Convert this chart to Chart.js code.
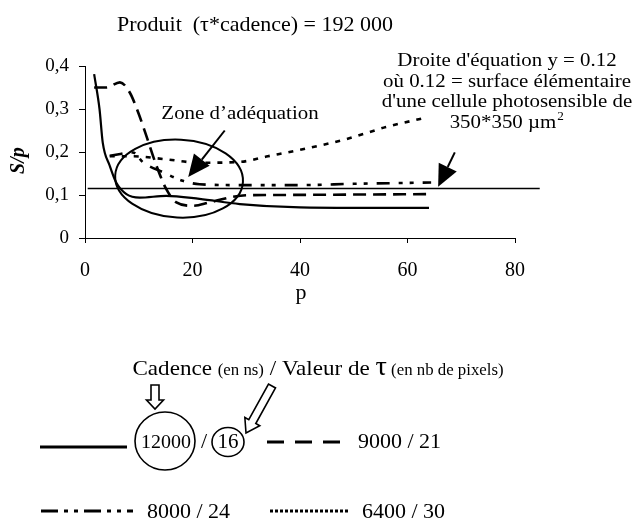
<!DOCTYPE html>
<html>
<head>
<meta charset="utf-8">
<script src="https://cdn.jsdelivr.net/npm/chart.js@4.4.1/dist/chart.umd.min.js"></script>
<style>
html, body { margin: 0; padding: 0; background: #fff; }
#wrap { width: 640px; height: 519px; }
</style>
</head>
<body>
<div id="wrap"><canvas id="myChart"></canvas></div>
<script>
// p values (x) and S/p values (y)
const pSolid = [1.7, 2.7, 3.3, 4.6, 5.8, 7.7, 10.2, 15.1, 21.3, 28.8, 40, 50, 64];
const sSolid = [0.381, 0.300, 0.222, 0.168, 0.129, 0.102, 0.094, 0.098, 0.091, 0.079, 0.071, 0.070, 0.070];

const pDash = [1.7, 4.0, 6.5, 8.3, 9.9, 11.4, 13.3, 15.1, 17.0, 20.1, 23.2, 29.4, 35, 50, 64];
const sDash = [0.350, 0.350, 0.362, 0.339, 0.292, 0.238, 0.168, 0.114, 0.083, 0.075, 0.083, 0.099, 0.100, 0.101, 0.102];

const pDashDot = [4.6, 8.9, 10.8, 14.5, 18.2, 21.3, 28.8, 40, 50, 64.4];
const sDashDot = [0.191, 0.199, 0.176, 0.153, 0.133, 0.125, 0.123, 0.123, 0.126, 0.129];

const pDot = [4.6, 8.9, 15.1, 21.3, 28.8, 34, 40, 48.6, 56, 62.7];
const sDot = [0.190, 0.190, 0.183, 0.175, 0.177, 0.190, 0.205, 0.230, 0.258, 0.278];

const pRef = [0.5, 84.6];
const sRef = [0.115, 0.115];

const seriesLabels = ['12000 / 16', '9000 / 21', '8000 / 24', '6400 / 30'];
const xTicks = [0, 20, 40, 60, 80];
const yTicks = [0, 0.1, 0.2, 0.3, 0.4];

const FONT = '"Liberation Serif", "Times New Roman", serif';
Chart.defaults.font.family = FONT;
Chart.defaults.color = '#000';

function pts(xs, ys) {
    return xs.map((x, i) => ({ x: x, y: ys[i] }));
}

const DASH = [13, 7];
const DASHDOT = [13, 9, 4, 7, 4, 9];
const DOT = [5, 7];

function txt(ctx, s, x, y, size, align, style, sx) {
    ctx.save();
    ctx.font = (style || '') + ' ' + size + 'px ' + FONT;
    ctx.textAlign = align || 'center';
    ctx.textBaseline = 'alphabetic';
    ctx.fillStyle = '#000';
    ctx.translate(x, y);
    ctx.scale(sx || 1.1, 1);
    ctx.fillText(s, 0, 0);
    ctx.restore();
}

function textW(ctx, s, size, sx) {
    ctx.save();
    ctx.font = size + 'px ' + FONT;
    const w = ctx.measureText(s).width * (sx || 1.1);
    ctx.restore();
    return w;
}

function filledArrow(ctx, x1, y1, x2, y2, headL, headW) {
    const a = Math.atan2(y2 - y1, x2 - x1);
    const bx = x2 - headL * Math.cos(a), by = y2 - headL * Math.sin(a);
    ctx.save();
    ctx.strokeStyle = '#000';
    ctx.fillStyle = '#000';
    ctx.lineWidth = 2;
    ctx.beginPath();
    ctx.moveTo(x1, y1);
    ctx.lineTo(bx, by);
    ctx.stroke();
    ctx.beginPath();
    ctx.moveTo(x2, y2);
    ctx.lineTo(bx + headW / 2 * Math.sin(a), by - headW / 2 * Math.cos(a));
    ctx.lineTo(bx - headW / 2 * Math.sin(a), by + headW / 2 * Math.cos(a));
    ctx.closePath();
    ctx.fill();
    ctx.restore();
}

function hollowArrow(ctx, x1, y1, x2, y2, shaftW, headW, headL) {
    const a = Math.atan2(y2 - y1, x2 - x1);
    const len = Math.hypot(x2 - x1, y2 - y1);
    ctx.save();
    ctx.translate(x1, y1);
    ctx.rotate(a);
    ctx.strokeStyle = '#000';
    ctx.lineWidth = 1.6;
    ctx.fillStyle = '#fff';
    ctx.beginPath();
    ctx.moveTo(0, -shaftW / 2);
    ctx.lineTo(len - headL, -shaftW / 2);
    ctx.lineTo(len - headL, -headW / 2);
    ctx.lineTo(len, 0);
    ctx.lineTo(len - headL, headW / 2);
    ctx.lineTo(len - headL, shaftW / 2);
    ctx.lineTo(0, shaftW / 2);
    ctx.closePath();
    ctx.fill();
    ctx.stroke();
    ctx.restore();
}

function legendLine(ctx, x1, x2, y, dash, w) {
    ctx.save();
    ctx.strokeStyle = '#000';
    ctx.lineWidth = w;
    ctx.setLineDash(dash);
    ctx.beginPath();
    ctx.moveTo(x1, y);
    ctx.lineTo(x2, y);
    ctx.stroke();
    ctx.restore();
}

const extras = {
    id: 'extras',
    afterDraw(chart) {
        const ctx = chart.ctx;
        const xs = chart.scales.x, ys = chart.scales.y;

        // title and axis titles
        txt(ctx, 'Produit  (\u03c4*cadence) = 192 000', 255, 31, 22, 'center', '', 1);
        txt(ctx, 'p', xs.getPixelForValue(40) + 1, 299, 22, 'center', '', 1);
        ctx.save();
        ctx.translate(24, ys.getPixelForValue(0.18));
        ctx.rotate(-Math.PI / 2);
        ctx.font = 'italic bold 20px ' + FONT;
        ctx.textAlign = 'center';
        ctx.fillStyle = '#000';
        ctx.fillText('S/p', 0, 0);
        ctx.restore();

        // zone ellipse
        const cx = xs.getPixelForValue(17.5), cy = ys.getPixelForValue(0.138);
        const rx = xs.getPixelForValue(17.5 + 11.9) - cx;
        const ry = cy - ys.getPixelForValue(0.138 + 0.0907);
        ctx.save();
        ctx.strokeStyle = '#000';
        ctx.lineWidth = 2;
        ctx.beginPath();
        ctx.ellipse(cx, cy, rx, ry, 0.05, 0, Math.PI * 2);
        ctx.stroke();
        ctx.restore();

        txt(ctx, 'Zone d\u2019ad\u00e9quation', 240, 119, 19);
        filledArrow(ctx, xs.getPixelForValue(26.0), ys.getPixelForValue(0.25),
            xs.getPixelForValue(19.2), ys.getPixelForValue(0.142), 22, 20);

        // reference line note
        txt(ctx, "Droite d'\u00e9quation y = 0.12", 507, 66, 19);
        txt(ctx, 'o\u00f9 0.12 = surface \u00e9l\u00e9mentaire', 507, 87, 19);
        txt(ctx, "d'une cellule photosensible de", 507, 107, 19);
        const w4 = textW(ctx, '350*350 \u00b5m', 19);
        txt(ctx, '350*350 \u00b5m', 503 - w4 / 2, 128, 19, 'left');
        txt(ctx, '2', 503 + w4 / 2 + 1, 120, 12, 'left');
        filledArrow(ctx, xs.getPixelForValue(68.8), ys.getPixelForValue(0.199),
            xs.getPixelForValue(65.7), ys.getPixelForValue(0.119), 22, 20);

        // legend block
        const parts = [['Cadence ', 22], ['(en ns)', 16], [' / Valeur de ', 22], ['\u03c4', 27], [' (en nb de pixels)', 16]];
        let total = 0;
        parts.forEach(p => { total += textW(ctx, p[0], p[1], 1.05); });
        let hx = 318 - total / 2;
        parts.forEach(p => {
            txt(ctx, p[0], hx, 375, p[1], 'left', '', 1.05);
            hx += textW(ctx, p[0], p[1], 1.05);
        });

        hollowArrow(ctx, 155, 385, 155, 409, 8, 17, 9);
        hollowArrow(ctx, 272, 386, 246, 433, 8, 17, 13);

        legendLine(ctx, 40, 127, 447, [], 3);
        txt(ctx, '12000', 166, 448, 19, 'center', '', 1.05);
        txt(ctx, '/', 204, 448, 20);
        txt(ctx, '16', 228, 448, 20, 'center', '', 1.05);
        ctx.save();
        ctx.strokeStyle = '#000';
        ctx.lineWidth = 1.6;
        ctx.beginPath();
        ctx.ellipse(165, 441, 30, 29, 0, 0, Math.PI * 2);
        ctx.stroke();
        ctx.beginPath();
        ctx.ellipse(228, 442, 16, 14.5, 0, 0, Math.PI * 2);
        ctx.stroke();
        ctx.restore();

        legendLine(ctx, 267, 343, 442, [17, 11], 3);
        txt(ctx, seriesLabels[1], 358, 448, 20, 'left');
        legendLine(ctx, 41, 133, 511, [17, 6, 4, 6, 4, 6], 3);
        txt(ctx, seriesLabels[2], 147, 518, 20, 'left');
        legendLine(ctx, 270, 348, 511, [3, 2], 3);
        txt(ctx, seriesLabels[3], 362, 518, 20, 'left');
    }
};

const myChart = document.getElementById('myChart');

new Chart(myChart, {
    type: 'line',
    data: {
        datasets: [{
            label: seriesLabels[0],
            data: pts(pSolid, sSolid),
            borderColor: '#000',
            borderWidth: 2.2
        }, {
            label: seriesLabels[1],
            data: pts(pDash, sDash),
            borderColor: '#000',
            borderWidth: 2.6,
            borderDash: DASH
        }, {
            label: seriesLabels[2],
            data: pts(pDashDot, sDashDot),
            borderColor: '#000',
            borderWidth: 2.6,
            borderDash: DASHDOT
        }, {
            label: seriesLabels[3],
            data: pts(pDot, sDot),
            borderColor: '#000',
            borderWidth: 2.6,
            borderDash: DOT
        }, {
            label: 'y = 0.12',
            data: pts(pRef, sRef),
            borderColor: '#000',
            borderWidth: 1.5,
            clip: false,
            cubicInterpolationMode: 'default',
            tension: 0
        }]
    },
    options: {
        responsive: true,
        maintainAspectRatio: false,
        devicePixelRatio: 1,
        animation: false,
        elements: {
            point: { radius: 0 },
            line: { cubicInterpolationMode: 'monotone', fill: false }
        },
        layout: { padding: { left: 0, top: 66, right: 125, bottom: 221 } },
        plugins: {
            legend: { display: false },
            tooltip: { enabled: false },
            title: { display: false }
        },
        scales: {
            x: {
                type: 'linear',
                min: 0,
                max: 80,
                afterFit(scale) { scale.height = 60; },
                afterBuildTicks(scale) { scale.ticks = xTicks.map(v => ({ value: v })); },
                ticks: { font: { size: 20 }, padding: 16, maxRotation: 0 },
                grid: { drawOnChartArea: false, drawTicks: true, tickLength: 5, color: '#000' },
                border: { display: true, color: '#000', width: 1 }
            },
            y: {
                min: 0,
                max: 0.4,
                afterFit(scale) { scale.width = 85; },
                afterBuildTicks(scale) { scale.ticks = yTicks.map(v => ({ value: v })); },
                ticks: {
                    font: { size: 19 },
                    padding: 10,
                    callback: v => v === 0 ? '0' : v.toFixed(1).replace('.', ',')
                },
                grid: { drawOnChartArea: false, drawTicks: true, tickLength: 6, color: '#000' },
                border: { display: true, color: '#000', width: 1 }
            }
        }
    },
    plugins: [extras]
});
</script>
</body>
</html>
